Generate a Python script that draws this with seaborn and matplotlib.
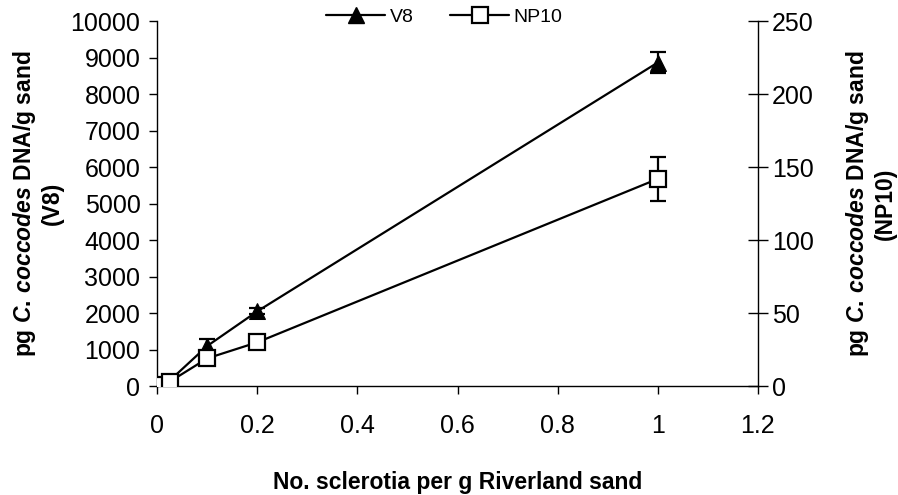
import matplotlib
matplotlib.use("Agg")
import matplotlib.pyplot as plt
import seaborn as sns
import pandas as pd
from matplotlib.ticker import FormatStrFormatter, MultipleLocator
from matplotlib.lines import Line2D

sns.set_theme(style="white")
plt.rcParams['font.family'] = ['Liberation Sans', 'DejaVu Sans']
plt.rcParams['mathtext.fontset'] = 'custom'
plt.rcParams['mathtext.it'] = 'Liberation Sans:italic:bold'
plt.rcParams['mathtext.rm'] = 'Liberation Sans:bold'
plt.rcParams['mathtext.bf'] = 'Liberation Sans:bold'
for k in ['text.color', 'axes.labelcolor', 'xtick.color', 'ytick.color', 'xtick.labelcolor',
          'ytick.labelcolor']:
    plt.rcParams[k] = 'black'

# data
sclerotia = [0, 0.005, 0.025, 0.1, 0.2, 1.0]
v8_dna = [0, 40, 150, 1100, 2050, 8870]
v8_err = [0, 0, 0, 200, 80, 300]
np10_dna = [0, 0.5, 3, 19, 30, 142]
np10_err = [0, 0, 0, 1.5, 2, 15]

df_v8 = pd.DataFrame({"x": sclerotia, "y": v8_dna, "err": v8_err})
df_np = pd.DataFrame({"x": sclerotia, "y": np10_dna, "err": np10_err})

fig = plt.figure(figsize=(8.98, 4.95), dpi=100)
ax = fig.add_axes([0.175, 0.22, 0.669, 0.737])
ax2 = ax.twinx()

lw = 1.6
ax.errorbar(df_v8["x"], df_v8["y"], yerr=df_v8["err"], fmt="none", ecolor="black",
            elinewidth=lw, capsize=6, capthick=lw, zorder=2)
sns.lineplot(data=df_v8, x="x", y="y", ax=ax, color="black", lw=lw, marker="^",
             markersize=12, markerfacecolor="black", markeredgecolor="black",
             legend=False, zorder=3)
ax2.errorbar(df_np["x"], df_np["y"], yerr=df_np["err"], fmt="none", ecolor="black",
             elinewidth=lw, capsize=6, capthick=lw, zorder=2)
sns.lineplot(data=df_np, x="x", y="y", ax=ax2, color="black", lw=lw, marker="s",
             markersize=12, markerfacecolor="white", markeredgecolor="black",
             markeredgewidth=1.6, legend=False, zorder=3)

ax.set_xlim(0, 1.2)
ax.set_ylim(0, 10000)
ax2.set_ylim(0, 250)
ax.xaxis.set_major_locator(MultipleLocator(0.2))
ax.xaxis.set_major_formatter(FormatStrFormatter('%g'))
ax.yaxis.set_major_locator(MultipleLocator(1000))
ax2.yaxis.set_major_locator(MultipleLocator(50))

for a in (ax, ax2):
    for s in a.spines.values():
        s.set_color("black")
        s.set_linewidth(1.0)
    a.spines['top'].set_visible(False)
ax.spines['right'].set_visible(False)
ax2.spines['left'].set_visible(False)
ax2.spines['bottom'].set_visible(False)

ax.tick_params(axis='both', direction='out', length=6, width=1, color='black',
               labelcolor='black', labelsize=18, pad=6, left=True, bottom=True)
ax.tick_params(axis='x', pad=14)
ax2.tick_params(axis='y', direction='inout', length=14, width=1, color='black',
                labelcolor='black', labelsize=18, pad=3, right=True)

ylab_l = "pg $\\it{C.\\,coccodes}$ DNA/g sand\n(V8)"
ylab_r = "pg $\\it{C.\\,coccodes}$ DNA/g sand\n(NP10)"
ax.set_xlabel("No. sclerotia per g Riverland sand", fontsize=16.5, fontweight='bold',
              labelpad=24, color='black')
ax.set_ylabel(ylab_l, fontsize=16.5, fontweight='bold', labelpad=5, linespacing=1.15,
              color='black')
ax2.set_ylabel(ylab_r, fontsize=16.5, fontweight='bold', rotation=90, labelpad=22,
               linespacing=1.15, color='black')
ax2.yaxis.set_label_position('right')

handles = [Line2D([], [], color='black', lw=lw, marker='^', markersize=11, markerfacecolor='black'),
           Line2D([], [], color='black', lw=lw, marker='s', markersize=12, markerfacecolor='white',
                  markeredgewidth=1.6)]
fig.legend(handles, ["V8", "NP10"], loc='center', bbox_to_anchor=(0.495, 0.966), ncol=2,
           frameon=False, fontsize=14, handlelength=3.0, handletextpad=0.25, columnspacing=1.9,
           labelcolor='black')

ax.grid(False)
ax2.grid(False)
fig.savefig("out.png", dpi=100)
